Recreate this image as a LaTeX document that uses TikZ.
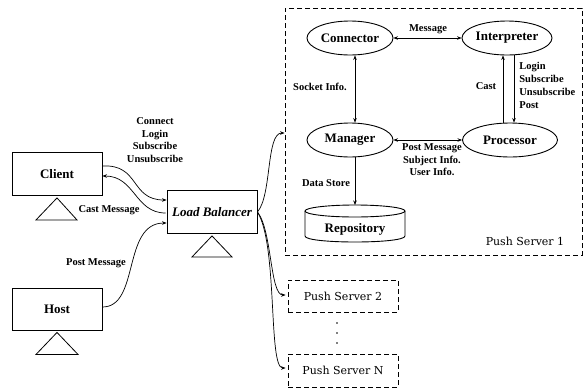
\documentclass[tikz,border=0pt]{standalone}
\usepackage{fontspec}
\setmainfont{Liberation Serif}
\newfontfamily\psfont{DejaVu Serif}
\usetikzlibrary{shapes.geometric,calc,arrows.meta}
\begin{document}
\begin{tikzpicture}[x=1pt,y=-1pt,
  >={Stealth[length=4.5pt,width=3.5pt]},
  line width=0.8pt,
  box/.style={draw, line width=0.9pt, minimum width=90pt, minimum height=43pt, inner sep=0pt,
    font=\fontsize{13}{15}\selectfont\bfseries},
  ell/.style={draw, ellipse, line width=0.9pt, minimum height=34pt, inner sep=0pt,
    font=\fontsize{13}{15}\selectfont\bfseries},
  dbox/.style={draw, line width=0.9pt, dash pattern=on 5pt off 3pt, inner sep=0pt,
    font=\psfont\fontsize{11}{13}\selectfont},
  lbl/.style={font=\fontsize{10.5}{12.5}\selectfont\bfseries, inner sep=0pt, align=center},
  conn/.style={->, line width=0.7pt},
  stand/.style={draw, line width=0.8pt}]
\useasboundingbox (0,0) rectangle (587,389);

% push server boxes
\node[dbox, minimum width=297pt, minimum height=247pt] (ps1) at (433.5,131.5) {};
\node[dbox, minimum width=110pt, minimum height=32pt] (ps2) at (343,296) {Push Server 2};
\node[dbox, minimum width=110pt, minimum height=33pt] (psn) at (343,370.5) {Push Server N};
\node[font=\psfont\fontsize{11}{13}\selectfont, inner sep=0pt] (ps1lbl) at (525,241) {Push Server 1};
\foreach \yy in {323,333,343} \fill (337,\yy) circle (0.9pt);

% left nodes
\node[box] (cl) at (57,174) {Client};
\node[box, minimum height=42pt] (host) at (57,309) {Host};
\node[box, font=\fontsize{13}{15}\selectfont\bfseries\itshape] (lb) at (212,212) {Load Balancer};
\draw[stand] ($(cl.south)+(0,2)$) -- ++(-21,22) -- ++(41,0) -- cycle;
\draw[stand] ($(lb.south)+(0,2)$) -- ++(-20,21) -- ++(40,0) -- cycle;
\draw[stand] ($(host.south)+(0,2)$) -- ++(-21,22) -- ++(42,0) -- cycle;

% inner nodes
\node[ell, minimum width=86pt] (cn) at (350,38) {Connector};
\node[ell, minimum width=90pt] (ip) at (507,38) {Interpreter};
\node[ell, minimum width=86pt] (mg) at (350,140) {Manager};
\node[ell, minimum width=95pt] (pr) at (510,140) {Processor};
\coordinate (repotop) at (355,205);
\draw[line width=0.9pt] (355,211) ellipse [x radius=50, y radius=6];
\draw[line width=0.9pt] (305,211) -- (305,236) .. controls (305,244) and (405,244) .. (405,236) -- (405,211);
\node[font=\fontsize{13}{15}\selectfont\bfseries, inner sep=0pt] (repo) at (355,229) {Repository};

% inner connectors
\draw[conn,<->] (cn) -- (ip);
\draw[conn,<->] ($(cn.south)+(5,0)$) -- ($(mg.north)+(5,0)$);
\draw[conn,<->] (mg) -- (pr);
\draw[conn] ($(pr.north)+(-7,0)$) -- ($(ip.south)+(-4,0)$);
\draw[conn] ($(ip.south)+(7,0)$) -- ($(pr.north)+(4,0)$);
\draw[conn] ($(mg.south)+(5,0)$) -- (repotop);

\node[lbl] (lmsg) at (428,29) {Message};
\node[lbl] (lsock) at (320,87) {Socket Info.};
\node[lbl] (lcast) at (486,86) {Cast};
\node[lbl, align=left, anchor=north west, font=\fontsize{10.5}{12.8}\selectfont\bfseries] (llogin) at (519,62) {Login\\Subscribe\\Unsubscribe\\Post};
\node[lbl] (lpost) at (432,160) {Post Message\\Subject Info.\\User Info.};
\node[lbl] (ldata) at (326,183) {Data Store};

% left connectors
\draw[conn] ($(cl.east)+(0,-8)$) .. controls (140,164) and (130,200) .. ($(lb.west)+(0,-12)$);
\draw[conn] ($(lb.west)+(-1,1)$) .. controls (135,213) and (135,176) .. ($(cl.east)+(0,2)$);
\draw[conn] ($(host.east)+(0,-2)$) .. controls (140,307) and (122,223) .. ($(lb.west)+(0,11)$);

\node[lbl] (lconn) at (155,140) {Connect\\Login\\Subscribe\\Unsubscribe};
\node[lbl] (lcastm) at (109,210) {Cast Message};
\node[lbl] (lpostm) at (96,263) {Post Message};

% load balancer to push servers
\draw[conn] (lb.east) .. controls (272,195) and (266,133) .. (ps1.west |- 0,133);
\draw[conn] (lb.east) .. controls (272,230) and (270,295) .. ($(ps2.west)+(-2,-1)$);
\draw[conn] (lb.east) .. controls (278,245) and (268,368) .. ($(psn.west)+(-2,-2.5)$);
\end{tikzpicture}
\end{document}
